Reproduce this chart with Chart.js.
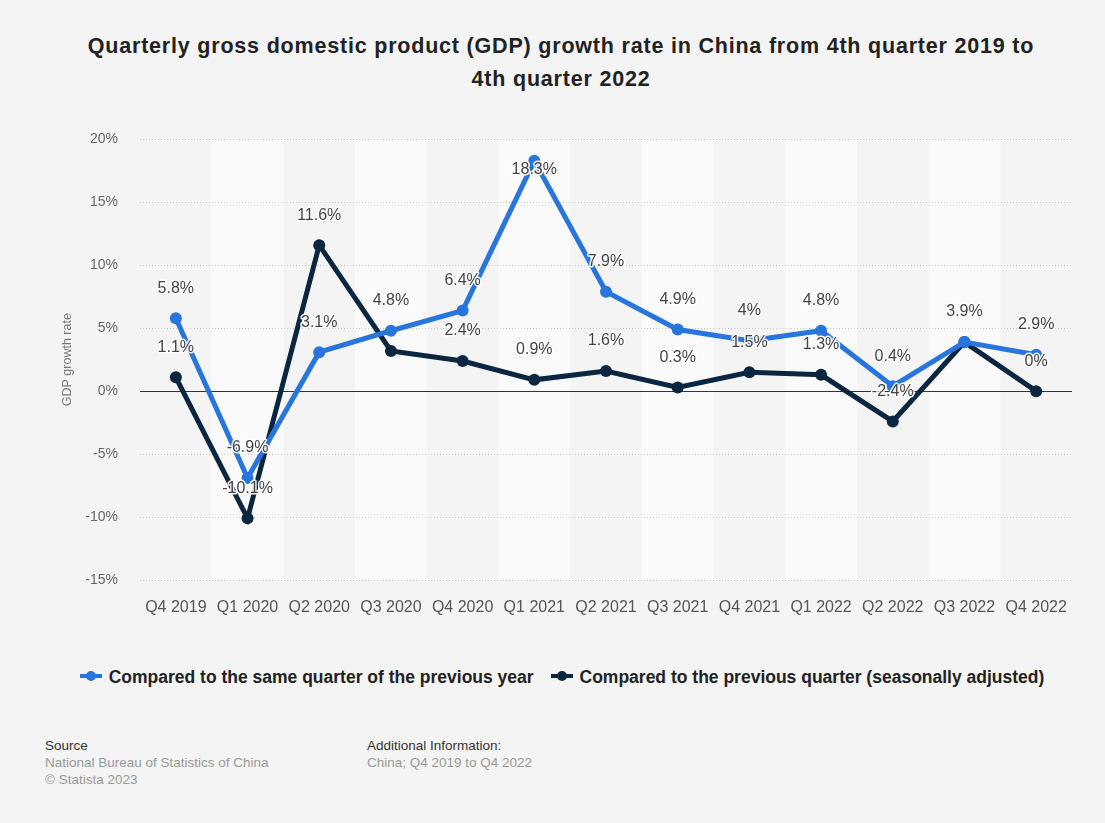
<!DOCTYPE html>
<html>
<head>
<meta charset="utf-8">
<script src="https://cdn.jsdelivr.net/npm/chart.js@4.4.0/dist/chart.umd.min.js"></script>
<style>
  body { margin: 0; background: #f4f4f4; font-family: "Liberation Sans", Arial, sans-serif; }
  #page { position: relative; width: 1105px; height: 823px; background: #f4f4f4; }
  #title { position: absolute; left: 0; top: 30px; width: 1122px; text-align: center;
           font-size: 21.5px; letter-spacing: 0.8px; font-weight: bold; color: #222; line-height: 33px; }
  #chartBox { position: absolute; left: 40px; top: 109px; width: 1050px; height: 516px; }
  #legend { position: absolute; left: 0; top: 667px; width: 1124px; text-align: center;
            font-size: 17.5px; font-weight: bold; color: #222; }
  #legend .item { display: inline-block; margin: 0 6px; }
  #legend .mark { display: inline-block; position: relative; width: 22px; height: 10px; vertical-align: middle; margin-right: 7px; top: -2px; }
  #legend .mark:before { content: ""; position: absolute; left: 0; right: 0; top: 3px; height: 4px; }
  #legend .mark:after { content: ""; position: absolute; left: 6px; top: 0; width: 10px; height: 10px; border-radius: 50%; }
  #legend .yoy:before, #legend .yoy:after { background: #2876dd; }
  #legend .qoq:before, #legend .qoq:after { background: #0b2640; }
  .foot { position: absolute; top: 737px; font-size: 13.5px; line-height: 17px; color: #999; }
  .foot b { font-weight: normal; color: #333; }
</style>
</head>
<body>
<div id="page">
  <div id="title">Quarterly gross domestic product (GDP) growth rate in China from 4th quarter 2019 to<br>4th quarter 2022</div>
  <div id="chartBox"><canvas id="gdpChart"></canvas></div>
  <div id="legend">
    <span class="item"><span class="mark yoy"></span>Compared to the same quarter of the previous year</span>
    <span class="item"><span class="mark qoq"></span>Compared to the previous quarter (seasonally adjusted)</span>
  </div>
  <div class="foot" style="left:45px"><b>Source</b><br>National Bureau of Statistics of China<br>© Statista 2023</div>
  <div class="foot" style="left:367px"><b>Additional Information:</b><br>China; Q4 2019 to Q4 2022</div>
</div>

<script>
// quarters on the x axis
const quarters = ['Q4 2019', 'Q1 2020', 'Q2 2020', 'Q3 2020', 'Q4 2020', 'Q1 2021', 'Q2 2021',
                  'Q3 2021', 'Q4 2021', 'Q1 2022', 'Q2 2022', 'Q3 2022', 'Q4 2022'];

// growth vs same quarter of previous year (%)
const yoyGrowth = [5.8, -6.9, 3.1, 4.8, 6.4, 18.3, 7.9, 4.9, 4, 4.8, 0.4, 3.9, 2.9];

// growth vs previous quarter, seasonally adjusted (%)
const qoqGrowth = [1.1, -10.1, 11.6, 3.2, 2.4, 0.9, 1.6, 0.3, 1.5, 1.3, -2.4, 3.9, 0];

// value labels that are left out where they would sit on top of another
const qoqHiddenLabels = [3, 11];

const yTicks = [-15, -10, -5, 0, 5, 10, 15, 20];

const YOY_COLOR = '#2876dd';
const QOQ_COLOR = '#0b2640';
const FONT = '"Liberation Sans", Arial, sans-serif';

/* alternating column shading behind the plot */
const bandPlugin = {
    id: 'bands',
    beforeDraw(chart) {
        const { ctx, chartArea, scales: { x } } = chart;
        const w = x.width / quarters.length;
        ctx.save();
        ctx.fillStyle = '#fafafa';
        quarters.forEach((q, i) => {
            if (i % 2 === 1) {
                const cx = x.getPixelForValue(i);
                ctx.fillRect(cx - w / 2, chartArea.top, w, chartArea.bottom - chartArea.top);
            }
        });
        ctx.restore();
    },
    beforeDatasetsDraw(chart) {
        // solid baseline at 0%
        const { ctx, chartArea, scales: { y } } = chart;
        const y0 = Math.round(y.getPixelForValue(0)) + 0.5;
        ctx.save();
        ctx.strokeStyle = '#333';
        ctx.lineWidth = 1;
        ctx.beginPath();
        ctx.moveTo(chartArea.left, y0);
        ctx.lineTo(chartArea.right, y0);
        ctx.stroke();
        ctx.restore();
    }
};

/* percentage labels above each point (pushed inside when too close to the top) */
const valueLabelPlugin = {
    id: 'valueLabels',
    afterDatasetsDraw(chart) {
        const { ctx, chartArea } = chart;
        ctx.save();
        ctx.font = '16px ' + FONT;
        ctx.textAlign = 'center';
        ctx.textBaseline = 'middle';
        ctx.lineJoin = 'round';
        chart.data.datasets.forEach((ds, di) => {
            const meta = chart.getDatasetMeta(di);
            meta.data.forEach((pt, i) => {
                if (di === 1 && qoqHiddenLabels.includes(i)) return;
                const txt = ds.data[i] + '%';
                let ly = pt.y - 30;
                if (ly < chartArea.top + 8) ly = pt.y + 9;
                ctx.strokeStyle = 'rgba(255,255,255,0.9)';
                ctx.lineWidth = 3;
                ctx.strokeText(txt, pt.x, ly);
                ctx.fillStyle = '#444';
                ctx.fillText(txt, pt.x, ly);
            });
        });
        ctx.restore();
    }
};

const ctx = document.getElementById('gdpChart');
new Chart(ctx, {
    type: 'line',
    data: {
        labels: quarters,
        datasets: [{
            label: 'Compared to the same quarter of the previous year',
            data: yoyGrowth,
            borderColor: YOY_COLOR,
            backgroundColor: YOY_COLOR,
            borderWidth: 5,
            pointRadius: 6,
            pointBorderWidth: 0,
            tension: 0
        }, {
            label: 'Compared to the previous quarter (seasonally adjusted)',
            data: qoqGrowth,
            borderColor: QOQ_COLOR,
            backgroundColor: QOQ_COLOR,
            borderWidth: 5,
            pointRadius: 6,
            pointBorderWidth: 0,
            tension: 0
        }]
    },
    options: {
        responsive: true,
        maintainAspectRatio: false,
        animation: false,
        layout: { padding: { top: 13, right: 18, left: 0, bottom: 0 } },
        plugins: {
            legend: { display: false },
            tooltip: { enabled: false }
        },
        scales: {
            x: {
                offset: true,
                grid: { display: false },
                border: { display: false },
                ticks: { color: '#555', font: { size: 16, family: FONT }, padding: 10, maxRotation: 0, autoSkip: false },
                afterFit(scale) { scale.height = 45; }
            },
            y: {
                min: -15,
                max: 20,
                afterBuildTicks(scale) { scale.ticks = yTicks.map(v => ({ value: v })); },
                grid: { color: '#c8c8c8', drawTicks: false },
                border: { display: false, dash: [1, 2] },
                ticks: {
                    color: '#666',
                    padding: 22,
                    font: { size: 14, family: FONT },
                    callback: v => v + '%'
                },
                title: {
                    display: true,
                    text: 'GDP growth rate',
                    color: '#777',
                    padding: { top: 20, bottom: 0 },
                    font: { size: 12.5, family: FONT }
                },
                afterFit(scale) { scale.width = 100; }
            }
        }
    },
    plugins: [bandPlugin, valueLabelPlugin]
});
</script>
</body>
</html>
